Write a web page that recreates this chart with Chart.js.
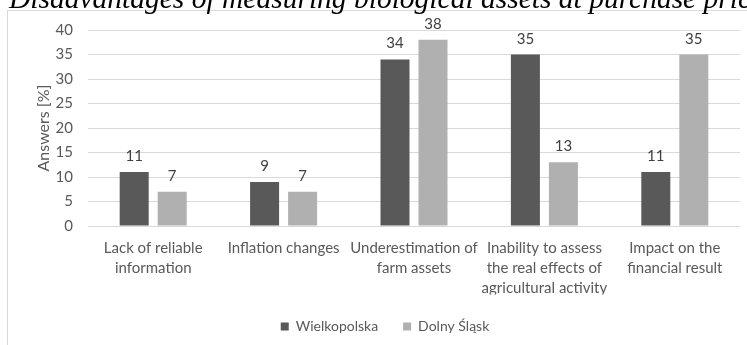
<!DOCTYPE html>
<html>
<head>
<meta charset="utf-8">
<script src="https://cdn.jsdelivr.net/npm/chart.js@4.4.0/dist/chart.umd.min.js"></script>
<style>
    html, body { margin: 0; padding: 0; background: #fff; overflow: hidden; }
    #wrap { position: relative; width: 747px; height: 345px; overflow: hidden; }
    #frame { position: absolute; left: 7px; top: 10px; right: 0; bottom: 0; border-left: 1px solid #d9d9d9; border-top: 1px solid #d9d9d9; }
    #chart { position: absolute; left: 0; top: 0; }
    #title { position: absolute; left: 9px; top: -16px; font: italic 29.5px/29px "Liberation Serif"; color: #000; white-space: nowrap; }
</style>
</head>
<body>
<div id="wrap">
    <div id="frame"></div>
    <canvas id="chart" width="747" height="345"></canvas>
    <div id="title">Disadvantages of measuring biological assets at purchase price</div>
</div>
<script>
// categories (multi-line, as in the picture)
const categories = [
    ['Lack of reliable', 'information'],
    ['Inflation changes'],
    ['Underestimation of', 'farm assets'],
    ['Inability to assess', 'the real effects of', 'agricultural activity'],
    ['Impact on the', 'financial result']
];
const wielkopolska = [11, 9, 34, 35, 11];
const dolnySlask = [7, 7, 38, 13, 35];
const yMin = 0;
const yMax = 40;
const yStep = 5;

const darkGrey = '#595959';
const lightGrey = '#b0b0b0';

// values above the bars
const barLabels = {
    id: 'barLabels',
    afterDatasetsDraw(chart) {
        const ctx = chart.ctx;
        ctx.save();
        ctx.font = '15px Lato';
        ctx.fillStyle = '#404040';
        ctx.textAlign = 'center';
        ctx.textBaseline = 'alphabetic';
        chart.data.datasets.forEach((ds, i) => {
            chart.getDatasetMeta(i).data.forEach((bar, j) => {
                ctx.fillText(ds.data[j], bar.x, bar.y - 11);
            });
        });
        ctx.restore();
    }
};

const config = {
    type: 'bar',
    data: {
        labels: categories,
        datasets: [
            {
                label: 'Wielkopolska',
                data: wielkopolska,
                backgroundColor: darkGrey,
                categoryPercentage: 0.583,
                barPercentage: 0.763
            },
            {
                label: 'Dolny Śląsk',
                data: dolnySlask,
                backgroundColor: lightGrey,
                categoryPercentage: 0.583,
                barPercentage: 0.763
            }
        ]
    },
    options: {
        responsive: false,
        animation: false,
        layout: {
            padding: { left: 30, right: 7, top: 30, bottom: 1.5 }
        },
        plugins: {
            legend: {
                position: 'bottom',
                labels: {
                    boxWidth: 8,
                    boxHeight: 8,
                    padding: 25,
                    color: '#595959',
                    font: { family: 'Lato', size: 14 }
                }
            },
            tooltip: { enabled: false }
        },
        scales: {
            x: {
                grid: { display: false, drawTicks: false },
                border: { display: false },
                ticks: {
                    color: '#595959',
                    padding: 12,
                    maxRotation: 0,
                    autoSkip: false,
                    font: { family: 'Lato', size: 15, lineHeight: 1.33 }
                },
                afterFit: (s) => { s.height = 68.5; }
            },
            y: {
                min: yMin,
                max: yMax,
                grid: { color: '#d9d9d9', drawTicks: false },
                border: { display: false },
                ticks: {
                    stepSize: yStep,
                    color: '#595959',
                    padding: 15,
                    font: { family: 'Lato', size: 15 }
                },
                title: {
                    display: true,
                    text: 'Answers [%]',
                    color: '#595959',
                    font: { family: 'Lato', size: 16 }
                },
                afterFit: (s) => { s.width = 58; }
            }
        }
    },
    plugins: [barLabels]
};

new Chart(document.getElementById('chart'), config);
</script>
</body>
</html>
